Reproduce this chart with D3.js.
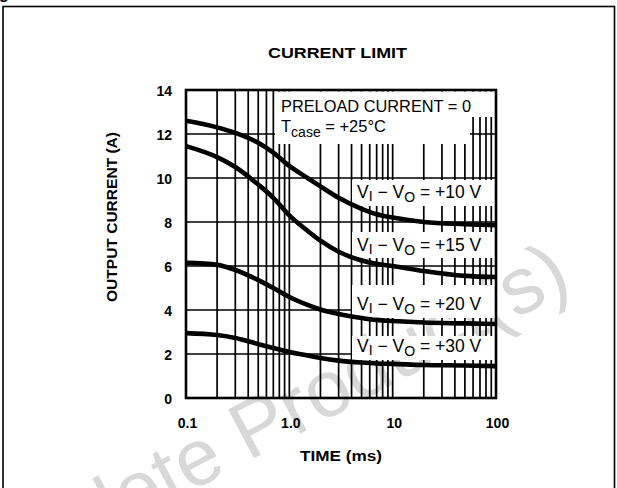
<!DOCTYPE html>
<html><head><meta charset="utf-8">
<script src="https://cdn.jsdelivr.net/npm/d3@7"></script>
<style>body{margin:0;background:#fff} svg{display:block}</style>
</head><body><svg id="c" width="617" height="488"></svg>
<script>
// ---- data ----
const timeMs = [0.1, 0.2, 0.3, 0.5, 0.7, 1, 1.5, 2, 3, 5, 7, 10, 20, 50, 100];
const cur10V = [12.6, 12.3, 12.05, 11.6, 11.15, 10.55, 10.0, 9.62, 9.1, 8.6, 8.35, 8.2, 8.0, 7.9, 7.85];
const cur15V = [11.45, 10.95, 10.5, 9.7, 9.1, 8.3, 7.6, 7.15, 6.65, 6.25, 6.1, 6.0, 5.77, 5.55, 5.5];
const cur20V = [6.14, 6.05, 5.82, 5.36, 5.0, 4.59, 4.23, 4.02, 3.82, 3.64, 3.55, 3.5, 3.43, 3.39, 3.36];
const cur30V = [2.95, 2.86, 2.73, 2.45, 2.27, 2.09, 1.93, 1.82, 1.7, 1.61, 1.57, 1.55, 1.5, 1.48, 1.45];
const seriesNames = ["+10 V", "+15 V", "+20 V", "+30 V"];
const xTickValues = [0.1, 1, 10, 100];
const xTickLabels = ["0.1", "1.0", "10", "100"];
const yTickValues = [0, 2, 4, 6, 8, 10, 12, 14];
const titleText = "CURRENT LIMIT";
const xTitle = "TIME (ms)";
const yTitle = "OUTPUT CURRENT (A)";
const watermarkText = "Obsolete Product(s)";

// ---- drawing ----
const svg = d3.select("#c");
const FONT = "'Liberation Sans', Arial, Helvetica, sans-serif";
const x = d3.scaleLog().domain([0.1, 100]).range([186, 496]);
const y = d3.scaleLinear().domain([0, 14]).range([398, 90]);

// watermark (behind the chart)
svg.append("text").attr("transform", "translate(-54,622) rotate(-28)")
  .attr("font-family", FONT).attr("font-size", 80).attr("fill", "#d8d8d8")
  .text(watermarkText);

// outer frame
svg.append("rect").attr("x", 3).attr("y", 6.5).attr("width", 611.5).attr("height", 520)
  .attr("fill", "none").attr("stroke", "#000").attr("stroke-width", 1.6);
// cut caption fragment
svg.append("text").attr("x", -1).attr("y", -1).attr("font-family", FONT).attr("font-size", 16)
  .attr("font-weight", "bold").text("g");

// title
svg.append("text").attr("x", 337.5).attr("y", 58).attr("text-anchor", "middle")
  .attr("font-family", FONT).attr("font-weight", "bold").attr("font-size", 14)
  .attr("textLength", 139).attr("lengthAdjust", "spacingAndGlyphs").text(titleText);

// grid
const g = svg.append("g");
const vGrid = [];
[0.1, 1, 10].forEach(d => { for (let k = 2; k <= 9; k++) vGrid.push(k * d); });
vGrid.push(1, 10);
g.selectAll("line.v").data(vGrid).join("line")
  .attr("x1", d => x(d)).attr("x2", d => x(d)).attr("y1", y(0)).attr("y2", y(14))
  .attr("stroke", "#000").attr("stroke-width", 1.7);
g.selectAll("line.h").data(yTickValues.filter(v => v > 0 && v < 14)).join("line")
  .attr("x1", x(0.1)).attr("x2", x(100)).attr("y1", d => y(d)).attr("y2", d => y(d))
  .attr("stroke", "#000").attr("stroke-width", 1.7);

// white boxes behind in-plot texts
const boxes = svg.append("g");
function box(x0, y0, x1, y1) {
  boxes.append("rect").attr("x", x0).attr("y", y0).attr("width", x1 - x0).attr("height", y1 - y0).attr("fill", "#fff");
}
box(275, 91.5, x(100) - 1, 117);
box(275, 117, 470, 144);
const labelAt = [9.09, 6.68, 4.0, 2.09];
const labelBox = [[180, 206], [232, 258], [285, 318], [336, 360]];
labelBox.forEach(b => box(352, b[0], x(100) - 1, b[1]));

// curves
const series = [cur10V, cur15V, cur20V, cur30V];
const line = d3.line().x(d => x(d[0])).y(d => y(d[1])).curve(d3.curveMonotoneX);
svg.append("g").selectAll("path").data(series).join("path")
  .attr("d", vals => line(timeMs.map((t, i) => [t, vals[i]])))
  .attr("fill", "none").attr("stroke", "#000").attr("stroke-width", 4.6).attr("stroke-linecap", "butt");

// in-plot annotations
const ann = svg.append("g").attr("font-family", FONT).attr("fill", "#000");
ann.append("text").attr("x", 281).attr("y", 112).attr("font-size", 16.5)
  .attr("textLength", 190).attr("lengthAdjust", "spacingAndGlyphs").text("PRELOAD CURRENT = 0");
const tc = ann.append("text").attr("x", 281).attr("y", 132).attr("font-size", 16.5);
tc.append("tspan").text("T");
tc.append("tspan").attr("font-size", 14).attr("dy", 5).text("case");
tc.append("tspan").attr("dy", -5).text(" = +25°C");

seriesNames.forEach((name, i) => {
  const t = ann.append("text").attr("x", 357).attr("y", y(labelAt[i])).attr("font-size", 17.5);
  t.append("tspan").text("V");
  t.append("tspan").attr("font-size", 14).attr("dy", 3).text("I");
  t.append("tspan").attr("dy", -3).text(" − V");
  t.append("tspan").attr("font-size", 14).attr("dy", 4).text("O");
  t.append("tspan").attr("dy", -4).text(" = " + name);
});

// plot frame
svg.append("rect").attr("x", x(0.1)).attr("y", y(14)).attr("width", x(100) - x(0.1)).attr("height", y(0) - y(14))
  .attr("fill", "none").attr("stroke", "#000").attr("stroke-width", 2.6);

// axes
const xAxis = d3.axisBottom(x).tickValues(xTickValues).tickFormat((d, i) => xTickLabels[i]).tickSize(0).tickPadding(0);
const xa = svg.append("g").attr("transform", `translate(1,${y(0)})`).call(xAxis);
xa.select(".domain").remove();
xa.selectAll("text").attr("y", 30).attr("dy", 0).attr("font-family", FONT).attr("font-size", 14).attr("font-weight", "bold").attr("fill", "#000");

const yAxis = d3.axisLeft(y).tickValues(yTickValues).tickSize(0).tickPadding(0);
const ya = svg.append("g").attr("transform", `translate(172,0)`).call(yAxis);
ya.select(".domain").remove();
ya.selectAll("text").attr("x", 0).attr("dy", 0).attr("y", 5).attr("font-family", FONT).attr("font-size", 14).attr("font-weight", "bold").attr("fill", "#000");

svg.append("text").attr("x", 341).attr("y", 461).attr("text-anchor", "middle")
  .attr("font-family", FONT).attr("font-weight", "bold").attr("font-size", 14.5)
  .attr("textLength", 82).attr("lengthAdjust", "spacingAndGlyphs").text(xTitle);
svg.append("text").attr("transform", "translate(117,217) rotate(-90)").attr("text-anchor", "middle")
  .attr("font-family", FONT).attr("font-weight", "bold").attr("font-size", 15)
  .attr("textLength", 170).attr("lengthAdjust", "spacingAndGlyphs").text(yTitle);
</script></body></html>
